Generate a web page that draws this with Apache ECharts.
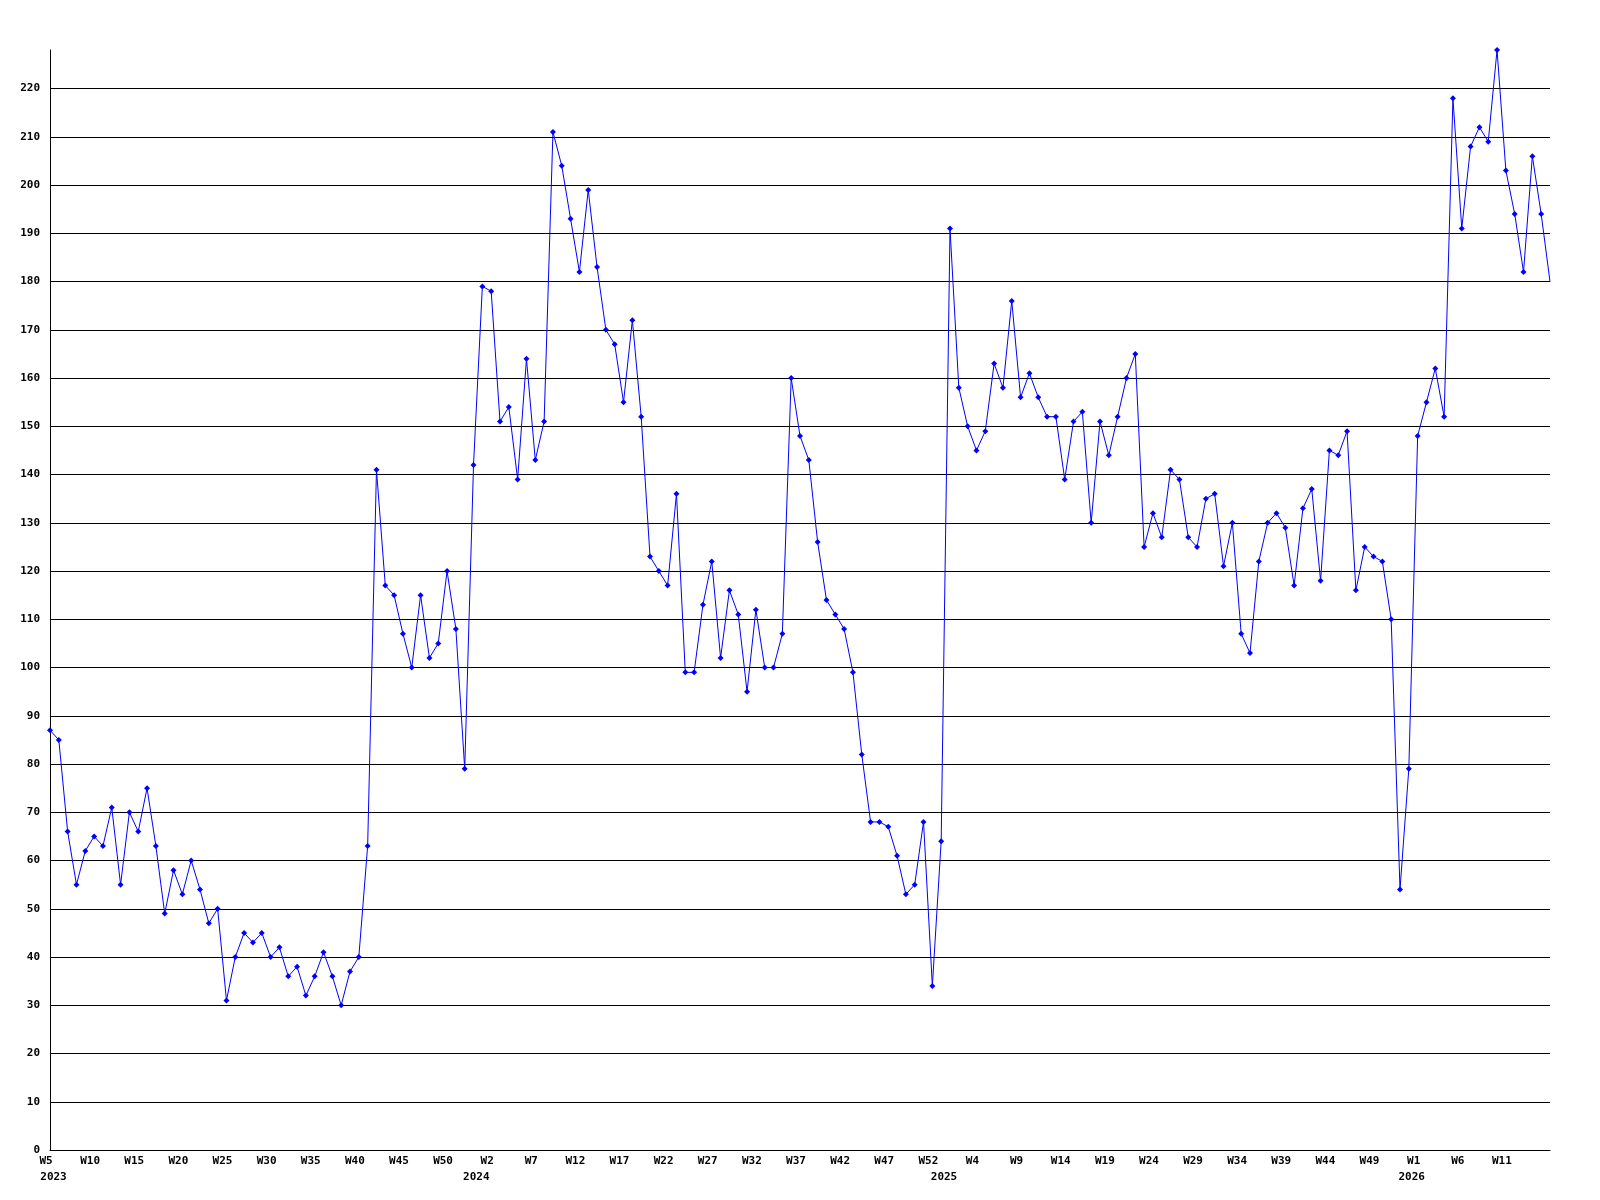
<!DOCTYPE html>
<html>
<head>
<meta charset="utf-8">
<script src="https://cdn.jsdelivr.net/npm/echarts@6/dist/echarts.min.js"></script>
<style>
  html, body { margin: 0; padding: 0; background: #fff; }
  #chart { width: 1600px; height: 1200px; }
</style>
</head>
<body>
<div id="chart"></div>
<script>
// weeks: each year counted W1..W53, series starts 2023 W5 and ends 2026 W16
const years = [2023, 2024, 2025, 2026]
const firstWeek = 5
const lastWeek = 16
const weeksPerYear = 53

// weekly values, one array per year
const values2023 = [87, 85, 66, 55, 62, 65, 63, 71, 55, 70, 66, 75, 63, 49, 58, 53, 60, 54, 47, 50,
  31, 40, 45, 43, 45, 40, 42, 36, 38, 32, 36, 41, 36, 30, 37, 40, 63, 141, 117, 115,
  107, 100, 115, 102, 105, 120, 108, 79, 142]
const values2024 = [179, 178, 151, 154, 139, 164, 143, 151, 211, 204, 193, 182, 199, 183, 170, 167, 155, 172,
  152, 123, 120, 117, 136, 99, 99, 113, 122, 102, 116, 111, 95, 112, 100, 100, 107, 160, 148, 143,
  126, 114, 111, 108, 99, 82, 68, 68, 67, 61, 53, 55, 68, 34, 64]
const values2025 = [191, 158, 150, 145, 149, 163, 158, 176, 156, 161, 156, 152, 152, 139, 151, 153, 130, 151,
  144, 152, 160, 165, 125, 132, 127, 141, 139, 127, 125, 135, 136, 121, 130, 107, 103, 122,
  130, 132, 129, 117, 133, 137, 118, 145, 144, 149, 116, 125, 123, 122, 110, 54, 79]
const values2026 = [148, 155, 162, 152, 218, 191, 208, 212, 209, 228, 203, 194, 182, 206, 194, 180]

const yTickStep = 10
const weekLabelStep = 5

let categories = []
years.forEach((y, k) => {
  const from = k === 0 ? firstWeek : 1
  const to = k === years.length - 1 ? lastWeek : weeksPerYear
  for (let w = from; w <= to; w++) categories.push(y + '-W' + w)
})
const allValues = [].concat(values2023, values2024, values2025, values2026)
const lastIndex = allValues.length - 1

// last point sits on the right border without a marker
const seriesData = allValues.map((v, i) => i === lastIndex ? { value: v, symbol: 'none' } : v)

const font = 'DejaVu Sans Mono'

const option = {
  animation: false,
  backgroundColor: '#fff',
  grid: {
    left: 50,
    right: 50,
    top: 50,
    bottom: 50
  },
  xAxis: [
    {
      type: 'category',
      data: categories,
      boundaryGap: false,
      axisTick: { show: false },
      axisLine: { show: true, lineStyle: { color: '#000', width: 1 } },
      splitLine: { show: false },
      axisLabel: {
        // every 5th week, the right border gets no label
        interval: (index) => index % weekLabelStep === 0 && index !== lastIndex,
        margin: 6,
        padding: [0, 8, 0, 0],
        color: '#000',
        fontFamily: font,
        fontWeight: 'bold',
        fontSize: 11,
        formatter: (value) => value.split('-')[1]
      }
    },
    {
      type: 'category',
      data: categories,
      boundaryGap: false,
      position: 'bottom',
      axisTick: { show: false },
      axisLine: { show: false },
      splitLine: { show: false },
      axisLabel: {
        margin: 22,
        color: '#000',
        fontFamily: font,
        fontWeight: 'bold',
        fontSize: 11,
        interval: (index, value) => index === 0 || value.split('-W')[1] === '1',
        formatter: (value, index) => {
          const y = value.split('-')[0]
          return index === 0 ? '{first|' + y + '}' : '{yr|' + y + '}'
        },
        rich: {
          first: { fontFamily: font, fontWeight: 'bold', fontSize: 11, color: '#000', padding: [0, 0, 0, 7] },
          yr: { fontFamily: font, fontWeight: 'bold', fontSize: 11, color: '#000', padding: [0, 12, 0, 0] }
        }
      }
    }
  ],
  yAxis: {
    type: 'value',
    min: 0,
    max: 'dataMax',
    interval: yTickStep,
    axisTick: { show: false },
    axisLine: { show: true, lineStyle: { color: '#000', width: 1 } },
    splitLine: {
      show: true,
      showMaxLine: false,
      lineStyle: { color: '#000', width: 1 }
    },
    axisLabel: {
      margin: 10,
      color: '#000',
      fontFamily: font,
      fontWeight: 'bold',
      fontSize: 11,
      showMaxLabel: false,
      formatter: (v) => (v % yTickStep === 0 ? String(v) : '')
    }
  },
  series: [
    {
      type: 'line',
      data: seriesData,
      xAxisIndex: 0,
      symbol: 'diamond',
      symbolSize: 6,
      showSymbol: true,
      showAllSymbol: true,
      clip: false,
      itemStyle: { color: '#0000ff' },
      lineStyle: { color: '#0000ff', width: 1 }
    }
  ]
}

const chart = echarts.init(document.getElementById('chart'), null, { renderer: 'canvas' })
chart.setOption(option)
</script>
</body>
</html>
